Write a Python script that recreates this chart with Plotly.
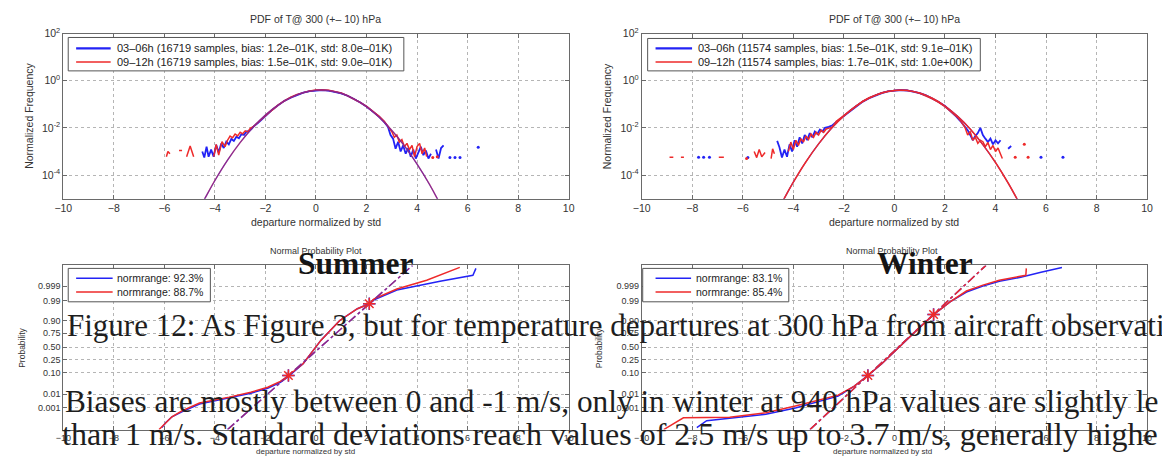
import plotly.graph_objects as go

W, H = 1162, 461

# ---------------- data ----------------
x_ticks = [-10, -8, -6, -4, -2, 0, 2, 4, 6, 8, 10]
pdf_tickvals = [1e-4, 1e-2, 1, 1e2]
pdf_ticktext = ["10<sup>-4</sup>", "10<sup>-2</sup>", "10<sup>0</sup>", "10<sup>2</sup>"]
prob_tickvals = [22, 36, 58, 71, 84, 98, 111, 131, 146]
prob_ticktext = ["0.001", "0.01", "0.10", "0.25", "0.50", "0.75", "0.90", "0.99", "0.999"]

# Gaussian fits
summer_fit_x = [-4.5, -4.4, -4.0, -3.5, -3.0, -2.5, -2.0, -1.5, -1.0, -0.5, 0.0, 0.2, 0.5,
                1.0, 1.5, 2.0, 2.5, 3.0, 3.5, 4.0, 4.5, 4.8, 4.9]
summer_fit_y = [6.4e-6, 1.0e-5, 5.9e-5, 4.3e-4, 2.4e-3, 1.04e-2, 3.5e-2, 9.4e-2, 0.194, 0.313,
                0.391, 0.399, 0.381, 0.290, 0.171, 0.079, 0.0284, 0.0079, 1.73e-3, 2.9e-4,
                3.9e-5, 1.0e-5, 6.4e-6]
winter_fit_x = [-4.4, -4.3, -4.0, -3.5, -3.0, -2.5, -2.0, -1.5, -1.0, -0.5, 0.0, 0.24, 0.5,
                1.0, 1.5, 2.0, 2.5, 3.0, 3.5, 4.0, 4.5, 4.9]
winter_fit_y = [8.5e-6, 1.34e-5, 5.0e-5, 3.66e-4, 2.1e-3, 9.4e-3, 3.24e-2, 8.8e-2, 0.185, 0.303,
                0.388, 0.399, 0.386, 0.299, 0.180, 0.0848, 0.031, 8.9e-3, 1.96e-3, 3.4e-4,
                4.6e-5, 7.8e-6]

# Empirical PDFs, summer (03-06h blue, 09-12h red)
summer_b_x = [-4.50, -4.42, -4.33, -4.25, -4.15, -4.05, -3.95, -3.85, -3.75, -3.65, -3.55, -3.45,
              -3.35, -3.25, -3.15, -3.05, -2.95, -2.85, -2.75, -2.65, -2.55, -2.45, -2.3, -2.1,
              -1.9, -1.7, -1.5, -1.25, -1.0, -0.75, -0.5, -0.25, 0.0, 0.25, 0.5, 0.75, 1.0, 1.25,
              1.5, 1.75, 2.0, 2.25, 2.5, 2.7, 2.85, 2.95, 3.05, 3.15, 3.25, 3.35, 3.45, 3.55, 3.65,
              3.75, 3.85, 3.95, 4.05, 4.15, 4.25, 4.35, 4.45, 4.55, 4.65, 4.75, 4.85, 4.95, 5.05]
summer_b_y = [1.0e-3, 5.5e-4, 1.6e-3, 6.0e-4, 1.2e-3, 6.0e-4, 1.9e-3, 9.0e-4, 2.2e-3, 1.4e-3,
              2.6e-3, 2.0e-3, 3.4e-3, 2.8e-3, 4.2e-3, 3.6e-3, 5.5e-3, 5.0e-3, 7.0e-3, 7.5e-3,
              9.0e-3, 1.2e-2, 1.6e-2, 2.6e-2, 4.0e-2, 6.2e-2, 9.0e-2, 0.14, 0.19, 0.25, 0.31,
              0.36, 0.39, 0.40, 0.38, 0.34, 0.29, 0.23, 0.17, 0.12, 0.080, 0.050, 0.030, 0.018,
              0.011, 5.0e-3, 3.5e-3, 1.3e-3, 2.6e-3, 1.0e-3, 1.8e-3, 8.0e-4, 1.4e-3, 6.0e-4,
              1.2e-3, 5.0e-4, 9.0e-4, 1.6e-3, 7.0e-4, 1.1e-3, 5.0e-4, 8.0e-4, None, 1.2e-3,
              5.0e-4, 1.4e-3, 1.8e-3]
summer_b_dots_x = [5.30, 5.50, 5.70, 6.42]
summer_b_dots_y = [5.5e-4, 5.5e-4, 5.5e-4, 1.5e-3]

summer_r_x = [-5.92, -5.86, -5.78, -5.6, -5.42, -5.30, -5.2, -5.12, -4.98, -4.84, -4.4, -4.05,
              -3.95, -3.85, -3.72, -3.6, -3.5, -3.4, -3.3, -3.2, -3.1, -3.0, -2.9, -2.8, -2.7,
              -2.6, -2.45, -2.3, -2.1, -1.9, -1.7, -1.5, -1.25, -1.0, -0.75, -0.5, -0.25, 0.0,
              0.25, 0.5, 0.75, 1.0, 1.25, 1.5, 1.75, 2.0, 2.25, 2.5, 2.7, 2.85, 3.0, 3.1, 3.2,
              3.3, 3.4, 3.5, 3.6, 3.7, 3.8, 3.9, 4.0, 4.1, 4.2, 4.3, 4.38]
summer_r_y = [6.0e-4, 1.0e-3, 8.0e-4, None, 1.1e-3, 1.1e-3, None, 6.0e-4, 1.7e-3, 6.0e-4, None,
              6.0e-4, 2.0e-3, 7.0e-4, 2.6e-3, 1.6e-3, 3.0e-3, 4.5e-3, 3.8e-3, 5.5e-3, 4.6e-3,
              6.5e-3, 5.6e-3, 7.5e-3, 6.8e-3, 9.5e-3, 1.2e-2, 1.7e-2, 2.7e-2, 4.1e-2, 6.0e-2,
              9.2e-2, 0.14, 0.20, 0.26, 0.32, 0.37, 0.40, 0.41, 0.39, 0.35, 0.30, 0.23, 0.17,
              0.12, 0.082, 0.052, 0.031, 0.019, 0.012, 7.0e-3, 4.0e-3, 5.0e-3, 2.5e-3, 3.2e-3,
              1.6e-3, 2.2e-3, 1.2e-3, 1.8e-3, 6.0e-4, 1.6e-3, 2.2e-3, 8.0e-4, 1.4e-3, 6.0e-4]
summer_r_dots_x = [4.62, 4.80]
summer_r_dots_y = [5.5e-4, 6.0e-4]

# Empirical PDFs, winter
winter_b_x = [-4.64, -4.55, -4.45, -4.35, -4.25, -4.15, -4.05, -3.95, -3.85, -3.75, -3.65, -3.55,
              -3.45, -3.35, -3.25, -3.15, -3.05, -2.95, -2.85, -2.75, -2.6, -2.45, -2.3, -2.1,
              -1.9, -1.7, -1.5, -1.25, -1.0, -0.75, -0.5, -0.25, 0.0, 0.25, 0.5, 0.75, 1.0, 1.25,
              1.5, 1.75, 2.0, 2.25, 2.45, 2.6, 2.75, 2.9, 3.0, 3.1, 3.2, 3.3, 3.4, 3.5, 3.6, 3.7,
              3.8, 3.9, 4.0, 4.1, 4.2, 4.35, 4.5, 4.62]
winter_b_y = [2.8e-3, 1.5e-3, 5.5e-4, 1.2e-3, 6.0e-4, 2.0e-3, 1.0e-3, 3.0e-3, 1.6e-3, 4.0e-3,
              2.2e-3, 5.0e-3, 3.0e-3, 6.0e-3, 4.0e-3, 7.0e-3, 5.5e-3, 8.5e-3, 7.0e-3, 1.0e-2,
              1.1e-2, 1.3e-2, 1.8e-2, 2.6e-2, 3.8e-2, 5.6e-2, 8.5e-2, 0.13, 0.18, 0.24, 0.30,
              0.35, 0.385, 0.40, 0.385, 0.35, 0.30, 0.24, 0.18, 0.125, 0.085, 0.050, 0.030,
              0.020, 1.3e-2, 8.0e-3, 5.0e-3, 3.0e-3, 4.5e-3, 6.0e-3, 1.0e-2, 5.0e-3, 3.5e-3,
              2.5e-3, 3.5e-3, 2.0e-3, 3.0e-3, 2.2e-3, 3.0e-3, None, 1.3e-3, 1.7e-3]
winter_b_dots_x = [-7.75, -7.55, -7.32, -5.80, 5.80, 6.67]
winter_b_dots_y = [5.7e-4, 5.7e-4, 5.7e-4, 5.5e-4, 5.7e-4, 5.7e-4]

winter_r_x = [-8.90, -8.75, -8.6, -8.45, -8.33, -7.5, -6.95, -6.75, -6.2, -5.55, -5.45, -5.35,
              -5.25, -5.12, -5.0, -4.88, -4.82, -4.75, -4.5, -4.2, -4.1, -4.0, -3.9, -3.8, -3.7,
              -3.6, -3.5, -3.4, -3.3, -3.2, -3.1, -3.0, -2.9, -2.8, -2.7, -2.55, -2.45, -2.3,
              -2.1, -1.9, -1.7, -1.5, -1.25, -1.0, -0.75, -0.5, -0.25, 0.0, 0.25, 0.5, 0.75,
              1.0, 1.25, 1.5, 1.75, 2.0, 2.25, 2.5, 2.65, 2.8, 2.9, 3.0, 3.1, 3.2, 3.3, 3.4,
              3.5, 3.6, 3.7, 3.8, 3.9, 4.0, 4.1, 4.2, 4.27]
winter_r_y = [5.7e-4, 5.7e-4, None, 5.7e-4, 5.7e-4, None, 5.7e-4, 5.7e-4, None, 1.0e-3, 5.5e-4,
              1.2e-3, 6.0e-4, 9.0e-4, None, 5.0e-4, 1.3e-3, 8.0e-4, None, 1.0e-3, 2.5e-3,
              1.2e-3, 3.0e-3, 1.8e-3, 3.5e-3, 2.5e-3, 4.5e-3, 3.2e-3, 5.5e-3, 4.0e-3, 6.5e-3,
              5.0e-3, 8.0e-3, 6.5e-3, 9.0e-3, 1.0e-2, 1.1e-2, 1.9e-2, 2.8e-2, 4.0e-2, 5.8e-2,
              8.8e-2, 0.135, 0.19, 0.25, 0.31, 0.36, 0.39, 0.41, 0.39, 0.35, 0.29, 0.23, 0.17,
              0.12, 0.080, 0.048, 0.028, 0.018, 1.0e-2, 5.0e-3, 7.0e-3, 3.0e-3, 4.0e-3, 2.2e-3,
              3.0e-3, 2.6e-3, 1.6e-3, 2.4e-3, 1.2e-3, 1.8e-3, 1.0e-3, 1.4e-3, 7.0e-4, 5.0e-4]
winter_r_dots_x = [-5.85, 4.78, 5.14, 5.29]
winter_r_dots_y = [5.0e-4, 5.7e-4, 2.0e-3, 5.7e-4]

# Normal probability plots (y in probability-axis units)
summer_np_b_x = [-6.10, -5.95, -5.70, -5.31, -4.61, -3.44, -2.58, -1.91, -1.41, -1.09, -0.51, 0.20,
                 0.94, 1.64, 2.11, 2.30, 3.20, 4.91, 6.21, 6.33]
summer_np_b_y = [2, 7, 13, 18, 26, 32, 37, 42, 48, 54, 67, 91, 111, 123, 128, 132, 142, 151, 157, 164]
summer_np_r_x = [-6.21, -5.98, -5.70, -5.31, -4.61, -3.44, -2.58, -1.91, -1.41, -1.09, -0.51, 0.20,
                 0.94, 1.64, 2.11, 2.30, 3.20, 4.38, 5.69]
summer_np_r_y = [0, 6, 13, 19, 27, 33, 38, 43, 49, 55, 67, 91, 111, 123, 128, 133, 143, 152, 165]
summer_ref_x = [-3.50, 3.82]
summer_ref_y = [0, 167]
summer_q_x = [-1.09, 2.11]
summer_q_y = [55, 128]

winter_np_b_x = [-7.82, -7.43, -6.52, -5.09, -3.92, -2.23, -1.60, -1.05, -0.50, 0.38, 1.00, 1.55,
                 2.20, 2.85, 3.50, 4.15, 5.00, 5.80, 6.63]
winter_np_b_y = [2, 9, 11.5, 15.5, 22, 34, 44, 55, 67, 89, 104, 117, 130, 140, 146, 151, 155, 160, 165]
winter_np_r_x = [-9.13, -8.35, -6.52, -5.09, -3.92, -2.23, -1.60, -1.05, -0.50, 0.38, 1.00, 1.55,
                 2.20, 2.85, 3.50, 4.15, 4.70, 5.20, 5.22]
winter_np_r_y = [0, 12, 12.5, 17, 24, 35, 44, 55, 67, 89, 104, 117, 130, 141, 147, 152, 155, 157, 164]
winter_ref_x = [-3.34, 3.62]
winter_ref_y = [0, 167]
winter_q_x = [-1.05, 1.55]
winter_q_y = [55, 117]

summer_labels = ["03–06h (16719 samples, bias: 1.2e–01K, std: 8.0e–01K)",
                 "09–12h (16719 samples, bias: 1.5e–01K, std: 9.0e–01K)"]
winter_labels = ["03–06h (11574 samples, bias: 1.5e–01K, std: 9.1e–01K)",
                 "09–12h (11574 samples, bias: 1.7e–01K, std: 1.0e+00K)"]
summer_norm_labels = ["normrange: 92.3%", "normrange: 88.7%"]
winter_norm_labels = ["normrange: 83.1%", "normrange: 85.4%"]

caption_lines = [
    "Figure 12: As Figure 3, but for temperature departures at 300 hPa from aircraft observati",
    "Biases are mostly between 0 and -1 m/s, only in winter at 940 hPa values are slightly le",
    "than 1 m/s. Standard deviations reach values of 2.5 m/s up to 3.7 m/s, generally highe",
]

# ---------------- styling ----------------
BLUE = "#2323f5"
RED = "#ee2a2a"
SANS = "Liberation Sans, Arial, sans-serif"
SERIF = "Liberation Serif, Times New Roman, serif"
TXT = "#333333"


def fx(p):
    return p / W


def fy(p):
    return 1 - p / H


fig = go.Figure()


def add_pdf_panel(xa, ya, bx, by, bdx, bdy, rx, ry, rdx, rdy, fitx, fity, labels, red_fit_op):
    fig.add_trace(go.Scatter(x=bx, y=by, mode="lines", line=dict(color=BLUE, width=1.8),
                             name=labels[0], xaxis=xa, yaxis=ya, connectgaps=False))
    fig.add_trace(go.Scatter(x=rx, y=ry, mode="lines", line=dict(color=RED, width=1.5),
                             name=labels[1], xaxis=xa, yaxis=ya, connectgaps=False))
    fig.add_trace(go.Scatter(x=bdx, y=bdy, mode="markers", marker=dict(color=BLUE, size=3),
                             name=labels[0], xaxis=xa, yaxis=ya))
    fig.add_trace(go.Scatter(x=rdx, y=rdy, mode="markers", marker=dict(color=RED, size=3),
                             name=labels[1], xaxis=xa, yaxis=ya))
    fig.add_trace(go.Scatter(x=fitx, y=fity, mode="lines", line=dict(color=BLUE, width=1.2, shape="spline"),
                             name="fit 03–06h", xaxis=xa, yaxis=ya))
    fig.add_trace(go.Scatter(x=fitx, y=fity, mode="lines", line=dict(color=RED, width=1.5, shape="spline"),
                             opacity=red_fit_op, name="fit 09–12h", xaxis=xa, yaxis=ya))


def add_np_panel(xa, ya, bx, by, rx, ry, refx, refy, qx, qy, labels, red_ref_op):
    fig.add_trace(go.Scatter(x=bx, y=by, mode="lines", line=dict(color=BLUE, width=1.5),
                             name=labels[0], xaxis=xa, yaxis=ya))
    fig.add_trace(go.Scatter(x=rx, y=ry, mode="lines", line=dict(color=RED, width=1.5),
                             name=labels[1], xaxis=xa, yaxis=ya))
    fig.add_trace(go.Scatter(x=refx, y=refy, mode="lines", line=dict(color=BLUE, width=1.5, dash="dashdot"),
                             name="ref 03–06h", xaxis=xa, yaxis=ya))
    fig.add_trace(go.Scatter(x=refx, y=refy, mode="lines", line=dict(color=RED, width=1.5, dash="dashdot"),
                             opacity=red_ref_op, name="ref 09–12h", xaxis=xa, yaxis=ya))
    fig.add_trace(go.Scatter(x=qx, y=qy, mode="markers",
                             marker=dict(symbol="cross-thin-open", size=9, color=BLUE,
                                         line=dict(color=BLUE, width=1.5)),
                             name="quartiles 03–06h", xaxis=xa, yaxis=ya))
    fig.add_trace(go.Scatter(x=qx, y=qy, mode="markers",
                             marker=dict(symbol="asterisk-open", size=10, color=RED,
                                         line=dict(color=RED, width=1.5)),
                             name="quartiles 09–12h", xaxis=xa, yaxis=ya))


add_pdf_panel("x", "y", summer_b_x, summer_b_y, summer_b_dots_x, summer_b_dots_y,
              summer_r_x, summer_r_y, summer_r_dots_x, summer_r_dots_y,
              summer_fit_x, summer_fit_y, summer_labels, 0.5)
add_pdf_panel("x2", "y2", winter_b_x, winter_b_y, winter_b_dots_x, winter_b_dots_y,
              winter_r_x, winter_r_y, winter_r_dots_x, winter_r_dots_y,
              winter_fit_x, winter_fit_y, winter_labels, 1.0)
add_np_panel("x3", "y3", summer_np_b_x, summer_np_b_y, summer_np_r_x, summer_np_r_y,
             summer_ref_x, summer_ref_y, summer_q_x, summer_q_y, summer_norm_labels, 0.55)
add_np_panel("x4", "y4", winter_np_b_x, winter_np_b_y, winter_np_r_x, winter_np_r_y,
             winter_ref_x, winter_ref_y, winter_q_x, winter_q_y, winter_norm_labels, 1.0)

axis_common = dict(showline=True, linecolor="#6a6a6a", linewidth=1, mirror="allticks",
                   ticks="inside", ticklen=4, tickcolor="#6a6a6a", showgrid=True,
                   gridcolor="#b5b5b5", griddash="dot", gridwidth=1, zeroline=False,
                   tickfont=dict(family=SANS, size=10.5, color=TXT))

xdom_l = [fx(55), fx(567)]
xdom_r = [fx(641), fx(1153)]
ydom_t = [fy(194), fy(26)]
ydom_b = [fy(429), fy(262)]

lay = dict(
    width=W, height=H, margin=dict(l=0, r=0, t=0, b=0),
    paper_bgcolor="white", plot_bgcolor="white", showlegend=False,
    xaxis=dict(domain=xdom_l, anchor="y", range=[-10, 10], tickvals=x_ticks, **axis_common),
    yaxis=dict(domain=ydom_t, anchor="x", type="log", range=[-5, 2], tickvals=pdf_tickvals,
               ticktext=pdf_ticktext, **axis_common),
    xaxis2=dict(domain=xdom_r, anchor="y2", range=[-10, 10], tickvals=x_ticks, **axis_common),
    yaxis2=dict(domain=ydom_t, anchor="x2", type="log", range=[-5, 2], tickvals=pdf_tickvals,
                ticktext=pdf_ticktext, **axis_common),
    xaxis3=dict(domain=xdom_l, anchor="y3", range=[-10, 10], tickvals=x_ticks, **axis_common),
    yaxis3=dict(domain=ydom_b, anchor="x3", range=[0, 167], tickvals=prob_tickvals,
                ticktext=prob_ticktext, **axis_common),
    xaxis4=dict(domain=xdom_r, anchor="y4", range=[-10, 10], tickvals=x_ticks, **axis_common),
    yaxis4=dict(domain=ydom_b, anchor="x4", range=[0, 167], tickvals=prob_tickvals,
                ticktext=prob_ticktext, **axis_common),
)
for ax in ["yaxis3", "yaxis4", "xaxis3", "xaxis4"]:
    lay[ax]["tickfont"] = dict(family=SANS, size=9, color=TXT)
fig.update_layout(**lay)


def ann(text, x, y, size, family=SANS, color=TXT, angle=0, xanchor="center", yanchor="middle"):
    fig.add_annotation(text=text, x=fx(x), y=fy(y), xref="paper", yref="paper", showarrow=False,
                       font=dict(family=family, size=size, color=color), textangle=angle,
                       xanchor=xanchor, yanchor=yanchor)


def legend_box(x0, y0, x1, y1, rows, lx0, lx1, tx, size, widths):
    fig.add_shape(type="rect", xref="paper", yref="paper", x0=fx(x0), x1=fx(x1), y0=fy(y1), y1=fy(y0),
                  line=dict(color="#555555", width=1), fillcolor="white", layer="above")
    for (label, color, ry), w in zip(rows, widths):
        fig.add_shape(type="line", xref="paper", yref="paper", x0=fx(lx0), x1=fx(lx1), y0=fy(ry), y1=fy(ry),
                      line=dict(color=color, width=w), layer="above")
        ann(label, tx, ry, size, color="#222222", xanchor="left")


# legends
legend_box(60, 30, 400, 64, [(summer_labels[0], BLUE, 41), (summer_labels[1], RED, 55)],
           68, 103, 107, 11, [2.2, 1.5])
legend_box(647, 31, 984, 64, [(winter_labels[0], BLUE, 41), (winter_labels[1], RED, 55)],
           655, 692, 696, 11, [2.2, 1.5])
legend_box(60, 265, 204, 299, [(summer_norm_labels[0], BLUE, 275), (summer_norm_labels[1], RED, 289)],
           68, 105, 107, 10.5, [1.5, 1.5])
legend_box(642, 265, 790, 299, [(winter_norm_labels[0], BLUE, 275), (winter_norm_labels[1], RED, 289)],
           655, 691, 694, 10.5, [1.5, 1.5])

# titles and axis labels
ann("PDF of T@ 300 (+– 10) hPa", 311, 11, 10.5)
ann("PDF of T@ 300 (+– 10) hPa", 897, 11, 10.5)
ann("departure normalized by std", 311, 218, 10.5)
ann("departure normalized by std", 897, 218, 10.5)
ann("Normalized Frequency", 20, 110, 10.5, angle=-90)
ann("Normalized Frequency", 606, 110, 10.5, angle=-90)
ann("Normal Probability Plot", 311, 247, 9)
ann("Normal Probability Plot", 895, 247, 9)
ann("departure normalized by std", 300, 451, 8)
ann("departure normalized by std", 885, 451, 8)
ann("Probability", 13, 346, 8.5, angle=-90)
ann("Probability", 598, 346, 8.5, angle=-90)

# overlaid page text
ann("<b>Summer</b>", 351, 260, 31.5, family=SERIF, color="#151515")
ann("<b>Winter</b>", 928, 260, 31.5, family=SERIF, color="#151515")
ann(caption_lines[0], 57, 323, 31, family=SERIF, color="#1e1e1e", xanchor="left")
ann(caption_lines[1], 55, 400, 31.3, family=SERIF, color="#1e1e1e", xanchor="left")
ann(caption_lines[2], 52, 434, 32, family=SERIF, color="#1e1e1e", xanchor="left")

fig.write_html("out.html")
